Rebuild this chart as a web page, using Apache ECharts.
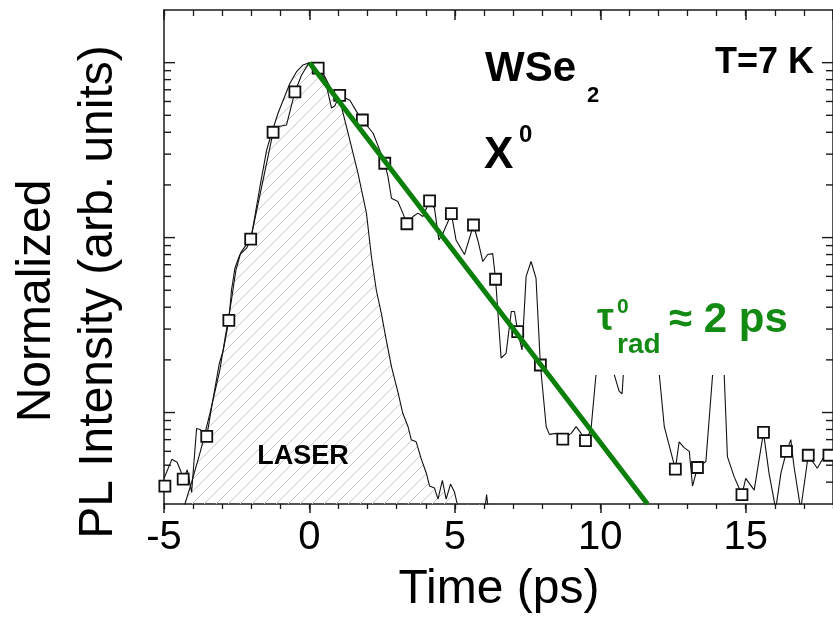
<!DOCTYPE html>
<html>
<head>
<meta charset="utf-8">
<script src="https://cdn.jsdelivr.net/npm/echarts@6/dist/echarts.min.js"></script>
<style>
html,body{margin:0;padding:0;background:#fff;}
#chart{width:833px;height:626px;}
</style>
</head>
<body>
<div id="chart"></div>
<script>
// ---------- data ----------
// Laser pulse profile (hatched)
const laserT = [-4.35,-4.28,-4.05,-3.76,-3.42,-3.08,-2.91,-2.68,-2.53,-2.36,-2.15,-1.98,-1.70,-1.47,-1.30,-1.08,-0.90,-0.67,-0.44,-0.22,-0.01,0.24,0.47,0.70,0.87,1.10,1.39,1.67,1.96,2.13,2.30,2.47,2.64,2.82,3.05,3.21,3.39,3.50,3.67,3.85,4.02,4.13,4.30,4.42,4.57,4.70,4.85,4.99,5.10,5.30,6.00,6.09,6.18];
const laserV = [0.0027,0.0030,0.0040,0.0059,0.0099,0.0175,0.026,0.044,0.065,0.082,0.092,0.105,0.196,0.317,0.395,0.514,0.612,0.763,0.889,0.97,1.0,0.97,0.87,0.73,0.63,0.56,0.36,0.233,0.138,0.078,0.050,0.037,0.026,0.0183,0.0129,0.0099,0.0083,0.0070,0.0068,0.0054,0.0045,0.0038,0.0037,0.0032,0.0041,0.0032,0.0039,0.0035,0.0029,0.0025,0.0025,0.0034,0.0025];

// PL transient (thin line); null = hidden by the annotation box
const plT = [-5.00,-4.73,-4.55,-4.42,-4.34,-4.20,-4.05,-3.88,-3.76,-3.53,-3.36,-3.10,-2.96,-2.77,-2.68,-2.56,-2.39,-2.16,-2.02,-1.25,-1.10,-0.79,-0.50,-0.27,-0.01,0.30,0.53,0.76,0.87,1.04,1.39,1.62,1.82,2.19,2.47,2.59,2.70,2.82,3.04,3.21,3.35,3.56,3.73,3.90,4.13,4.30,4.45,4.59,4.88,5.04,5.33,5.64,5.80,5.96,6.13,6.30,6.40,6.59,6.76,6.94,7.05,7.16,7.31,7.45,7.62,7.79,7.94,8.14,8.25,8.48,8.71,9.00,9.17,9.34,9.49,9.68,9.85,10.10,10.48,10.65,10.75,10.79,11.40,12.03,12.20,12.58,12.71,12.88,13.06,13.17,13.34,13.63,13.86,14.00,14.26,14.37,14.60,14.87,15.00,15.29,15.61,15.80,16.03,16.21,16.40,16.55,16.66,16.89,17.15,17.46,17.69,17.86,18.00];
const plV = [0.0042,0.0054,0.0052,0.0046,0.00416,0.0047,0.0035,0.0081,0.0080,0.0073,0.0108,0.0190,0.0228,0.0336,0.050,0.067,0.080,0.087,0.098,0.40,0.43,0.44,0.68,0.85,1.0,0.93,0.81,0.55,0.565,0.65,0.61,0.525,0.47,0.395,0.30,0.266,0.223,0.168,0.161,0.138,0.12,0.132,0.138,0.132,0.162,0.147,0.097,0.106,0.137,0.097,0.080,0.118,0.095,0.073,0.080,0.081,0.0578,0.0205,0.0218,0.0378,0.0378,0.029,0.0228,0.060,0.073,0.0586,0.0187,0.0083,0.0075,0.0076,0.00705,0.0076,0.0083,0.0076,0.0069,0.0080,0.0164,null,0.0164,0.0132,0.0128,0.0164,null,0.0164,0.0083,0.00475,0.0068,0.0063,0.0060,0.0038,0.00485,0.00525,0.0164,null,0.0164,0.0056,0.0043,0.00339,0.0042,0.0036,0.0077,0.0045,0.0028,0.0045,0.0060,0.0070,0.0049,0.0028,0.0057,0.0048,0.0056,0.0057,0.0053];

// Square markers
const sqT = [-4.97,-4.34,-3.53,-2.77,-2.02,-1.25,-0.50,0.30,1.04,1.82,2.59,3.35,4.13,4.88,5.64,6.40,7.16,7.94,8.71,9.49,12.58,13.34,14.87,15.61,16.40,17.15,17.86];
const sqV = [0.0038,0.00416,0.0073,0.0336,0.098,0.40,0.68,0.93,0.65,0.47,0.266,0.12,0.162,0.137,0.118,0.0578,0.029,0.0187,0.00705,0.0069,0.00475,0.00485,0.00339,0.0077,0.0060,0.0057,0.0057];

// Mono-exponential fit (tau = 2 ps)
const fitT = [0, 11.62];
const fitV = [1, 0.003];

// Axis ticks
const xTickLabels = [-5, 0, 5, 10, 15];
const yMajorTicks = [0.01, 0.1, 1];
const yMinorTicks = [0.004,0.005,0.006,0.007,0.008,0.009,0.02,0.03,0.04,0.05,0.06,0.07,0.08,0.09,0.2,0.3,0.4,0.5,0.6,0.7,0.8,0.9];

// ---------- chart ----------
const zip = (a, b) => a.map((t, i) => [t, b[i] == null ? '-' : b[i]]);
const FONT = '"Liberation Sans", Arial, sans-serif';
const AXC = '#1a1a1a';

// hatch pattern
const pc = document.createElement('canvas');
pc.width = 12; pc.height = 12;
const g = pc.getContext('2d');
g.strokeStyle = '#c6c6c6';
g.lineWidth = 1;
g.beginPath();
g.moveTo(0, 12); g.lineTo(12, 0);
g.moveTo(-1, 1); g.lineTo(1, -1);
g.moveTo(11, 13); g.lineTo(13, 11);
g.stroke();

const tickData = yMajorTicks.map(v => [v, 1]).concat(yMinorTicks.map(v => [v, 0]));

const chart = echarts.init(document.getElementById('chart'), null, {renderer: 'canvas'});
const xBase = {type: 'value', min: -5, max: 18, splitLine: {show: false}, gridIndex: 0};
const option = {
  animation: false,
  backgroundColor: '#fff',
  grid: {left: 164, top: 10, width: 670, height: 494, containLabel: false},
  xAxis: [
    Object.assign({}, xBase, {position: 'bottom', interval: 5,
      axisLine: {show: true, onZero: false, lineStyle: {color: AXC, width: 1.5}},
      axisTick: {show: true, inside: false, length: 9, lineStyle: {color: AXC, width: 1.5}},
      axisLabel: {show: true, fontSize: 40, fontFamily: FONT, color: '#000', margin: 14,
        showMaxLabel: false,
        formatter: v => xTickLabels.indexOf(v) >= 0 ? String(v) : ''}}),
    Object.assign({}, xBase, {position: 'bottom', interval: 1,
      axisLine: {show: false, onZero: false}, axisTick: {show: true, inside: false, length: 5, lineStyle: {color: AXC, width: 1.3}},
      axisLabel: {show: false}}),
    Object.assign({}, xBase, {position: 'top', interval: 5,
      axisLine: {show: true, onZero: false, lineStyle: {color: AXC, width: 1.5}},
      axisTick: {show: true, inside: true, length: 10, lineStyle: {color: AXC, width: 1.5}},
      axisLabel: {show: false}}),
    Object.assign({}, xBase, {position: 'top', interval: 1,
      axisLine: {show: false, onZero: false}, axisTick: {show: true, inside: true, length: 6, lineStyle: {color: AXC, width: 1.3}},
      axisLabel: {show: false}})
  ],
  yAxis: [
    {type: 'log', logBase: 10, min: 0.003, max: 2, position: 'left',
      axisLine: {show: true, onZero: false, lineStyle: {color: AXC, width: 1.5}},
      axisTick: {show: false}, axisLabel: {show: false}, splitLine: {show: false}},
    {type: 'log', logBase: 10, min: 0.003, max: 2, position: 'right',
      axisLine: {show: true, onZero: false, lineStyle: {color: AXC, width: 1.5}},
      axisTick: {show: false}, axisLabel: {show: false}, splitLine: {show: false}}
  ],
  series: [
    {
      name: 'ticks', type: 'custom', coordinateSystem: 'cartesian2d', xAxisIndex: 0, yAxisIndex: 0,
      silent: true, z: 1, encode: {x: 1, y: 0},
      data: tickData,
      renderItem: function (params, api) {
        const v = api.value(0), major = api.value(1);
        const cs = params.coordSys;
        const y = api.coord([0, v])[1];
        const len = major ? 11 : 7;
        const st = {stroke: AXC, lineWidth: 1.4};
        return {type: 'group', children: [
          {type: 'line', shape: {x1: cs.x, y1: y, x2: cs.x + len, y2: y}, style: st},
          {type: 'line', shape: {x1: cs.x + cs.width, y1: y, x2: cs.x + cs.width - len, y2: y}, style: st}
        ]};
      }
    },
    {
      name: 'LASER', type: 'line', xAxisIndex: 0, yAxisIndex: 0, data: zip(laserT, laserV),
      symbol: 'none', clip: true, z: 2,
      lineStyle: {color: '#111', width: 1.1},
      areaStyle: {origin: 'start', color: {image: pc, repeat: 'repeat'}, opacity: 1}
    },
    {
      name: 'PL', type: 'line', xAxisIndex: 0, yAxisIndex: 0, data: zip(plT, plV),
      symbol: 'none', clip: true, connectNulls: false, z: 3,
      lineStyle: {color: '#111', width: 1.1}
    },
    {
      name: 'PLmarkers', type: 'scatter', xAxisIndex: 0, yAxisIndex: 0, data: zip(sqT, sqV),
      symbol: 'rect', symbolSize: 11, z: 4,
      itemStyle: {color: '#fff', borderColor: '#111', borderWidth: 1.8, opacity: 1}
    },
    {
      name: 'fit', type: 'line', xAxisIndex: 0, yAxisIndex: 0, data: zip(fitT, fitV),
      symbol: 'none', clip: true, z: 5,
      lineStyle: {color: '#0a7f0a', width: 5, cap: 'butt'}
    }
  ],
  graphic: [
    {type: 'text', x: 499, y: 590, z: 100, style: {text: 'Time (ps)', fontSize: 48, fontFamily: FONT, fill: '#000', align: 'center', verticalAlign: 'middle'}},
    {type: 'text', x: 37, y: 301, rotation: Math.PI / 2, z: 100, style: {text: 'Normalized', fontSize: 48, fontFamily: FONT, fill: '#000', align: 'center', verticalAlign: 'middle'}},
    {type: 'text', x: 99, y: 292, rotation: Math.PI / 2, z: 100, style: {text: 'PL Intensity (arb. units)', fontSize: 48, fontFamily: FONT, fill: '#000', align: 'center', verticalAlign: 'middle'}},
    {type: 'text', x: 485, y: 69, z: 100, style: {text: 'WSe', fontSize: 42, fontWeight: 'bold', fontFamily: FONT, fill: '#000', align: 'left', verticalAlign: 'middle'}},
    {type: 'text', x: 587, y: 96, z: 100, style: {text: '2', fontSize: 22, fontWeight: 'bold', fontFamily: FONT, fill: '#000', align: 'left', verticalAlign: 'middle'}},
    {type: 'text', x: 484, y: 156, z: 100, style: {text: 'X', fontSize: 44, fontWeight: 'bold', fontFamily: FONT, fill: '#000', align: 'left', verticalAlign: 'middle'}},
    {type: 'text', x: 519, y: 135, z: 100, style: {text: '0', fontSize: 24, fontWeight: 'bold', fontFamily: FONT, fill: '#000', align: 'left', verticalAlign: 'middle'}},
    {type: 'text', x: 814, y: 63, z: 100, style: {text: 'T=7 K', fontSize: 36, fontWeight: 'bold', fontFamily: FONT, fill: '#000', align: 'right', verticalAlign: 'middle'}},
    {type: 'text', x: 303, y: 457, z: 100, style: {text: 'LASER', fontSize: 27, fontWeight: 'bold', fontFamily: FONT, fill: '#000', align: 'center', verticalAlign: 'middle'}},
    {type: 'text', x: 597, y: 320, z: 100, style: {text: 'τ', fontSize: 38, fontWeight: 'bold', fontFamily: FONT, fill: '#138a13', align: 'left', verticalAlign: 'middle'}},
    {type: 'text', x: 617, y: 307, z: 100, style: {text: '0', fontSize: 21, fontWeight: 'bold', fontFamily: FONT, fill: '#138a13', align: 'left', verticalAlign: 'middle'}},
    {type: 'text', x: 617, y: 345, z: 100, style: {text: 'rad', fontSize: 28, fontWeight: 'bold', fontFamily: FONT, fill: '#138a13', align: 'left', verticalAlign: 'middle'}},
    {type: 'text', x: 669, y: 320, z: 100, style: {text: '≈ 2 ps', fontSize: 42, fontWeight: 'bold', fontFamily: FONT, fill: '#138a13', align: 'left', verticalAlign: 'middle'}}
  ]
};
chart.setOption(option);
</script>
</body>
</html>
